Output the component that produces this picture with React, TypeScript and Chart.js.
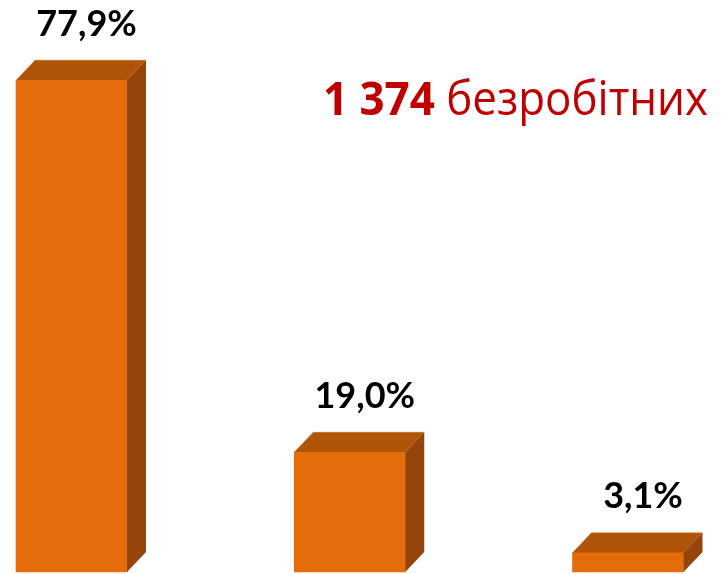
import React, { useEffect, useRef } from "react";
import { Chart, registerables } from "chart.js";

Chart.register(...registerables);

// ---- data ----
const categories = ["Категорія 1", "Категорія 2", "Категорія 3"];
const shares = [77.9, 19.0, 3.1];
const totalCount = "1 374";
const totalWord = "безробітних";

const fmt = (v: number) => v.toFixed(1).replace(".", ",") + "%";

// ---- styles ----
const FRONT = "#E46C0A";
const TOP = "#B0540A";
const SIDE = "#95450A";
const DEPTH_X = 19;
const DEPTH_Y = 20;

const bar3dPlugin = {
  id: "bar3d",
  afterDatasetsDraw(chart: any) {
    const ctx: CanvasRenderingContext2D = chart.ctx;
    const meta = chart.getDatasetMeta(0);
    meta.data.forEach((el: any, i: number) => {
      const { x, y, base, width } = el.getProps(["x", "y", "base", "width"], true);
      const l = x - width / 2;
      const r = x + width / 2;
      ctx.save();
      // top face
      ctx.beginPath();
      ctx.moveTo(l, y);
      ctx.lineTo(l + DEPTH_X, y - DEPTH_Y);
      ctx.lineTo(r + DEPTH_X, y - DEPTH_Y);
      ctx.lineTo(r, y);
      ctx.closePath();
      ctx.fillStyle = TOP;
      ctx.fill();
      ctx.strokeStyle = "rgba(245,190,150,0.6)";
      ctx.lineWidth = 1;
      ctx.beginPath();
      ctx.moveTo(l, y);
      ctx.lineTo(l + DEPTH_X, y - DEPTH_Y);
      ctx.lineTo(r + DEPTH_X, y - DEPTH_Y);
      ctx.stroke();
      // side face
      ctx.beginPath();
      ctx.moveTo(r, y);
      ctx.lineTo(r + DEPTH_X, y - DEPTH_Y);
      ctx.lineTo(r + DEPTH_X, base - DEPTH_Y);
      ctx.lineTo(r, base);
      ctx.closePath();
      ctx.fillStyle = SIDE;
      ctx.fill();
      // value label
      ctx.fillStyle = "#000000";
      ctx.font = "bold 36px Lato, 'Open Sans', sans-serif";
      ctx.textAlign = "center";
      ctx.textBaseline = "alphabetic";
      ctx.fillText(fmt(shares[i]), x + 15, y - 44);
      ctx.restore();
    });
  },
  afterDraw(chart: any) {
    const ctx: CanvasRenderingContext2D = chart.ctx;
    ctx.save();
    const boldFont = "bold 47px 'Open Sans', sans-serif";
    const regFont = "47px 'Open Sans', sans-serif";
    ctx.font = boldFont;
    const w1 = ctx.measureText(totalCount + " ").width;
    ctx.font = regFont;
    const w2 = ctx.measureText(totalWord).width;
    const target = 385;
    const sx = target / (w1 + w2);
    ctx.translate(323, 115);
    ctx.scale(sx, 1);
    ctx.fillStyle = "#C00000";
    ctx.textAlign = "left";
    ctx.textBaseline = "alphabetic";
    ctx.font = boldFont;
    ctx.fillText(totalCount + " ", 0, 0);
    ctx.font = regFont;
    ctx.fillText(totalWord, w1, 0);
    ctx.restore();
  },
};

export default function App() {
  const ref = useRef<HTMLCanvasElement | null>(null);
  useEffect(() => {
    if (!ref.current) return;
    const chart = new Chart(ref.current, {
      type: "bar",
      data: {
        labels: categories,
        datasets: [
          {
            data: shares,
            backgroundColor: FRONT,
            borderWidth: 0,
            barThickness: 111,
            clip: false as any,
          },
        ],
      },
      options: {
        responsive: false,
        animation: false,
        layout: { padding: { left: 71.5, right: 95, top: 66.74, bottom: 2 } },
        plugins: { legend: { display: false }, tooltip: { enabled: false } },
        scales: {
          x: { display: false, offset: false, grid: { display: false } },
          y: { display: false, min: 0, max: 80, grid: { display: false } },
        },
      },
      plugins: [bar3dPlugin],
    });
    return () => chart.destroy();
  }, []);
  return (
    <div style={{ position: "absolute", left: 0, top: 0, width: 723, height: 574, background: "#fff" }}>
      <canvas ref={ref} width={723} height={574} />
    </div>
  );
}
